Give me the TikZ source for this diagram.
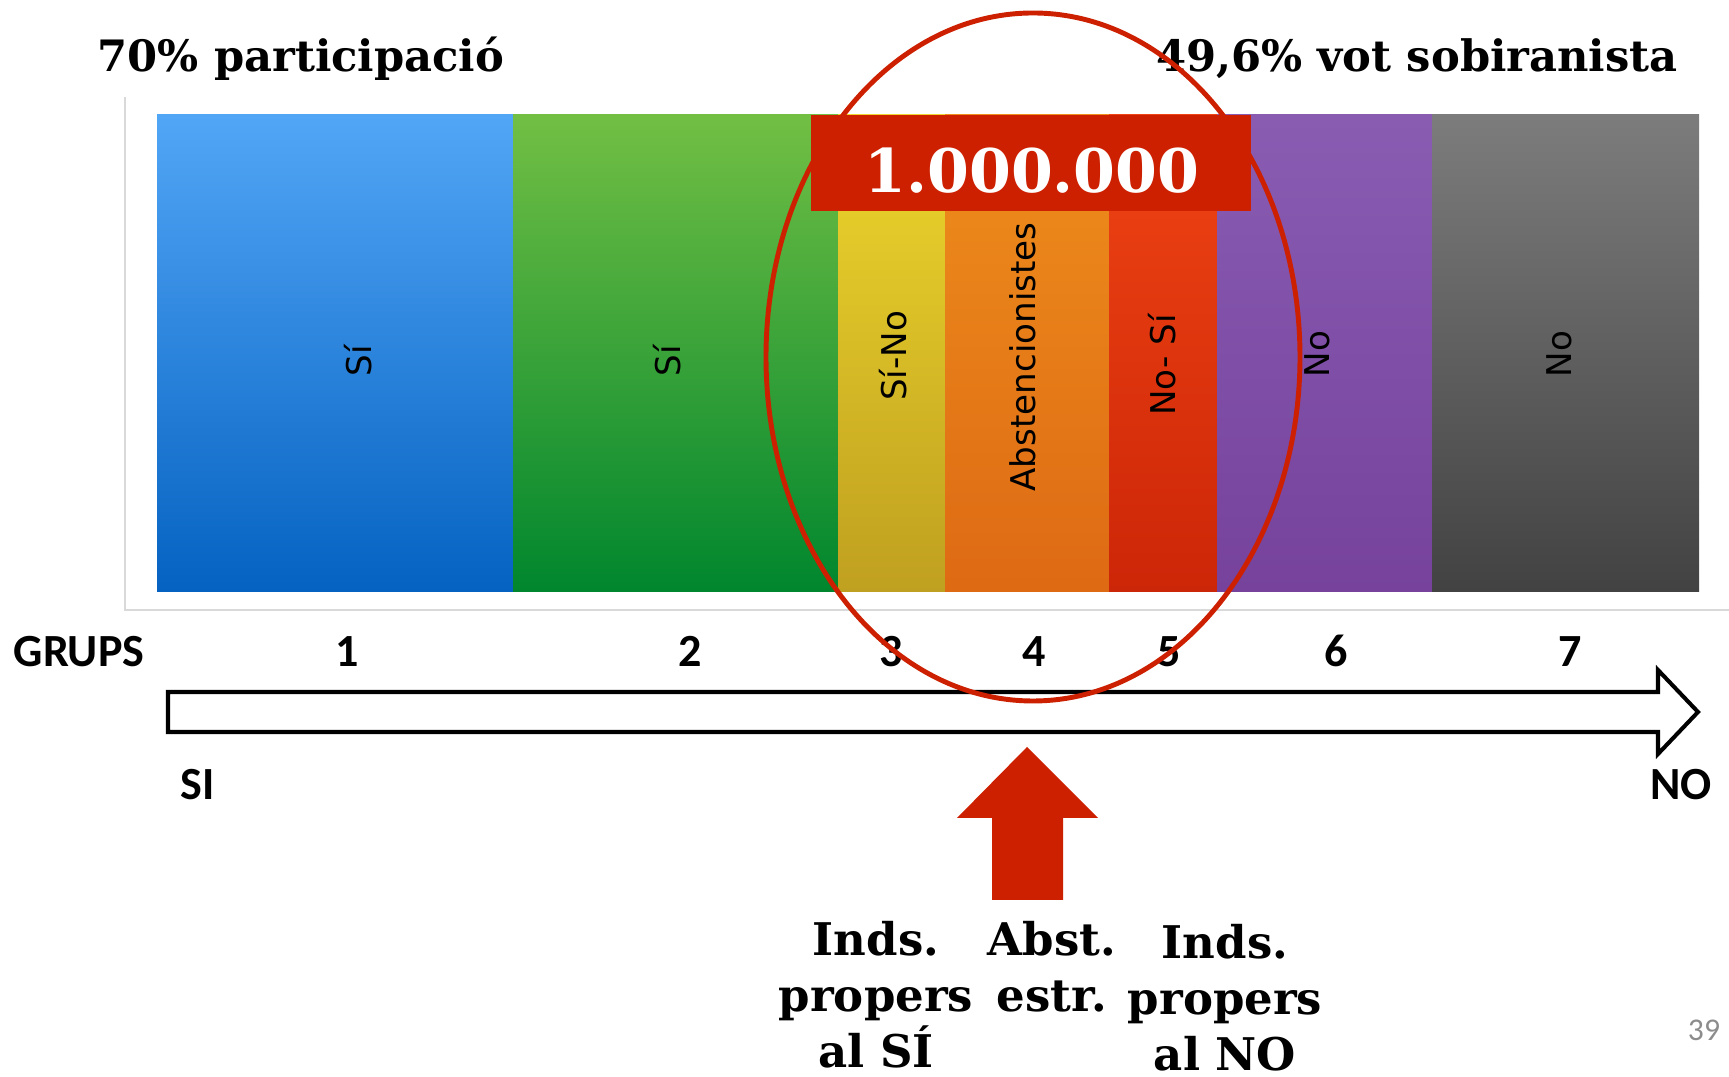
\documentclass[tikz,border=0pt]{standalone}
\usepackage{fontspec}
\usepackage{color}
\usepackage{tikz}
\setmainfont{DejaVu Serif}
\newfontfamily\barfont{DejaVu Sans}
\newfontfamily\grupfont{Carlito}
\definecolor{top1}{RGB}{82,166,246}
\definecolor{bot1}{RGB}{5,98,193}
\definecolor{top2}{RGB}{114,191,68}
\definecolor{bot2}{RGB}{0,134,46}
\definecolor{top3}{RGB}{238,214,44}
\definecolor{bot3}{RGB}{192,160,32}
\definecolor{top4}{RGB}{238,142,28}
\definecolor{bot4}{RGB}{222,106,20}
\definecolor{top5}{RGB}{240,68,20}
\definecolor{bot5}{RGB}{204,38,8}
\definecolor{top6}{RGB}{137,92,178}
\definecolor{bot6}{RGB}{118,66,156}
\definecolor{top7}{RGB}{124,124,124}
\definecolor{bot7}{RGB}{66,66,66}
\definecolor{vermell}{RGB}{204,32,0}
\definecolor{marc}{RGB}{217,217,217}
\definecolor{pagina}{RGB}{140,140,140}

\begin{document}
\begin{tikzpicture}[x=0.01cm,y=-0.01cm]
            \tikzstyle{title}=[font=\bfseries\fontsize{12.3}{14}\selectfont,anchor=base,inner sep=0pt]
            \tikzstyle{barlabel}=[font=\barfont\fontsize{9.7}{11}\selectfont,rotate=90,inner sep=0pt]
            \tikzstyle{grup}=[font=\grupfont\bfseries\fontsize{13.1}{15}\selectfont,anchor=base,inner sep=0pt]
            \tikzstyle{note}=[font=\bfseries\fontsize{12.8}{15.9}\selectfont,align=center,anchor=north,inner sep=0pt]
            \useasboundingbox (0,0) rectangle (1729,1077);

            \draw[marc,line width=0.3pt] (125,97) -- (125,610) -- (1729,610);
            \foreach \num/\xa/\xb in {1/157/513, 2/513/838, 3/838/945, 4/945/1109, 5/1109/1217, 6/1217/1432, 7/1432/1699}
                    \shade[top color=top\num,bottom color=bot\num] (\xa,115) rectangle (\xb,592);
            \foreach \num/\lab/\x/\y in {1/Sí/358/361, 2/Sí/667/361, 3/Sí-No/893/356, 4/Abstencionistes/1023/357, 5/No- Sí/1162/365, 6/No/1317/354, 7/No/1559/354}
                    \node[barlabel] (L-\num) at (\x,\y) {\lab};

                \node[fill=vermell,minimum width=4.4cm,minimum height=0.96cm,inner sep=0pt] (box) at (1031,163) {};
                \node[font=\bfseries\fontsize{17.1}{20}\selectfont,text=white,anchor=base,inner sep=0pt] (milio) at (1032,193) {1.000.000};

                \node[title] (T-1) at (301,72) {70\% participació};
                \node[title] (T-2) at (1417,72) {49,6\% vot sobiranista};

                \node[grup] (grups) at (79,667) {GRUPS};
            \foreach \num/\x in {1/347, 2/690, 3/891, 4/1034, 5/1169, 6/1336, 7/1570}
                    \node[grup] (N-\num) at (\x,667) {\num};
                \node[grup] (si) at (198,800) {SI};
                \node[grup] (no) at (1681,800) {NO};

                \draw[line width=1.15pt,fill=white] (168,692) -- (1658,692) -- (1658,670) -- (1698,712) -- (1658,754) -- (1658,732) -- (168,732) -- cycle;
                \fill[vermell] (992,900) -- (992,818) -- (957,818) -- (1027,747) -- (1098,818) -- (1063,818) -- (1063,900) -- cycle;

                \node[note] (A-1) at (876,921) {Inds.\\propers\\al SÍ};
                \node[note] (A-2) at (1052,921) {Abst.\\estr.};
                \node[note] (A-3) at (1225,924) {Inds.\\propers\\al NO};
                \node[font=\grupfont\fontsize{9}{10}\selectfont,text=pagina,anchor=base,inner sep=0pt] (pag) at (1704,1041) {39};

                \draw[vermell,line width=1.4pt] (1033,357) ellipse (267 and 344);
        \end{tikzpicture}
\end{document}
